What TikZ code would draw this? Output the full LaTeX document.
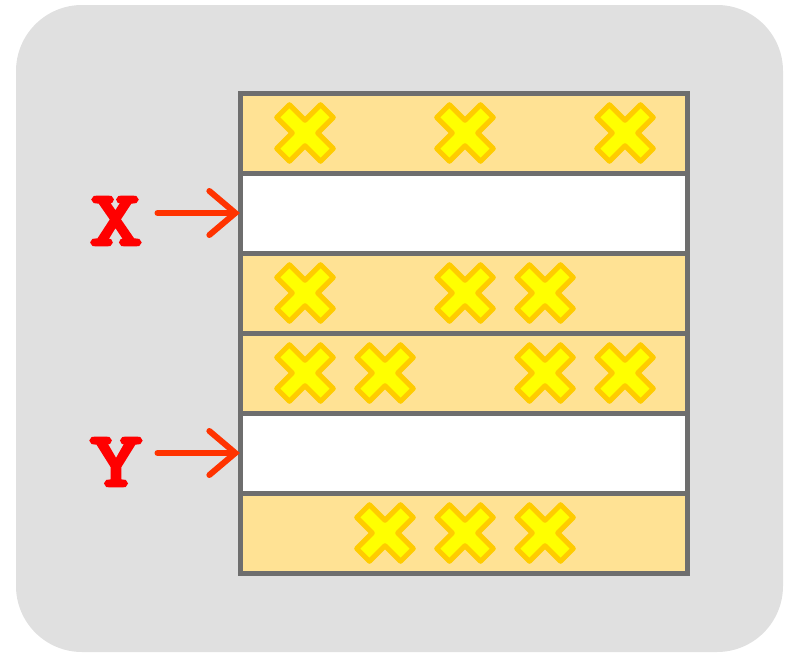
\documentclass[tikz,border=0pt]{standalone}
\usepackage{fontspec}
\newfontfamily\labelfont{lmmonolt10-bold.otf}[FakeBold=2.5, FakeStretch=1.3]
\usepackage[HTML]{xcolor}
\usetikzlibrary{positioning, arrows.meta}

\definecolor{panelgray}{HTML}{E0E0E0}
\definecolor{rowfill}{HTML}{FFE294}
\definecolor{gridgray}{HTML}{6E6E6E}
\definecolor{crossfill}{HTML}{FFFF00}
\definecolor{crossedge}{HTML}{FFCC00}
\definecolor{arrowred}{HTML}{FF3300}

\newcommand{\crossat}[2]{%
  \path[crossmark, shift={(#1,#2)}, rotate=45]
    (-9,-31) -- (9,-31) -- (9,-9) -- (31,-9) -- (31,9) -- (9,9)
    -- (9,31) -- (-9,31) -- (-9,9) -- (-31,9) -- (-31,-9) -- (-9,-9) -- cycle;}

\begin{document}
\begin{tikzpicture}[x=1pt, y=-1pt, node distance=0pt,
  row/.style={draw=gridgray, line width=5pt, fill=#1, rectangle,
    minimum width=447pt, minimum height=80pt, inner sep=0pt, outer sep=0pt},
  crossmark/.style={fill=crossfill, draw=crossedge, line width=5pt, line join=round},
  varlabel/.style={text=red, inner sep=0pt, font=\fontsize{80}{80}\selectfont\labelfont},
  pointer/.style={draw=arrowred, line width=6pt, line cap=round, shorten <=14pt,
    -{Straight Barb[length=26pt, width=44pt, line cap=round]}}]
\useasboundingbox (0,0) rectangle (792,653);
\fill[panelgray, rounded corners=66pt] (16,5) rectangle (783,652);

% the six rows
\node[row=rowfill] (r1) at (463.5,133) {};
\node[row=white, below=of r1] (r2) {};
\node[row=rowfill, below=of r2] (r3) {};
\node[row=rowfill, below=of r3] (r4) {};
\node[row=white, below=of r4] (r5) {};
\node[row=rowfill, below=of r5] (r6) {};

% crosses
\foreach \cx in {305,465,625} {\crossat{\cx}{133}}
\foreach \cx in {305,465,545} {\crossat{\cx}{293}}
\foreach \cx in {305,385,545,625} {\crossat{\cx}{373}}
\foreach \cx in {385,465,545} {\crossat{\cx}{533}}

% labels and arrows
\node[varlabel] (X) at (116,221) {X};
\node[varlabel] (Y) at (116,462) {Y};
\draw[pointer] (X.east |- r2.west) -- (r2.west);
\draw[pointer] (Y.east |- r5.west) -- (r5.west);
\end{tikzpicture}
\end{document}
